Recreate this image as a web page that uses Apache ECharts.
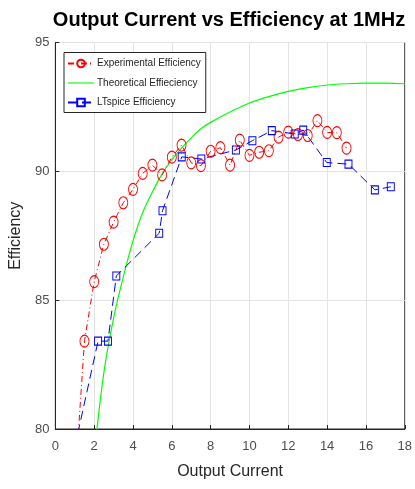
<!DOCTYPE html>
<html><head><meta charset="utf-8">
<script src="https://cdn.jsdelivr.net/npm/echarts@6/dist/echarts.min.js"></script>
<style>html,body{margin:0;padding:0;background:#fff}#c{width:415px;height:489px}</style>
</head><body><div id="c"></div>
<script>
const expX = [1.0, 1.5, 2.0, 2.5, 3.0, 3.5, 4.0, 4.5, 5.0, 5.5, 6.0, 6.5, 7.0, 7.5, 8.0, 8.5, 9.0, 9.5, 10.0, 10.5, 11.0, 11.5, 12.0, 12.5, 13.0, 13.5, 14.0, 14.5, 15.0];
const expY = [77.8, 83.41, 85.72, 87.17, 88.03, 88.78, 89.3, 89.92, 90.24, 89.86, 90.55, 91.02, 90.33, 90.22, 90.78, 90.92, 90.24, 91.21, 90.62, 90.74, 90.8, 91.33, 91.52, 91.43, 91.39, 91.97, 91.51, 91.5, 90.9];
const thX = [2.1, 2.5, 3.0, 3.5, 4.0, 4.5, 5.0, 5.5, 6.0, 6.5, 7.0, 7.5, 8.0, 9.0, 10.0, 11.0, 12.0, 13.0, 14.0, 15.0, 16.0, 17.0, 18.0];
const thY = [79.7, 82.2, 84.3, 85.9, 87.3, 88.4, 89.2, 89.9, 90.45, 90.9, 91.3, 91.65, 91.9, 92.3, 92.65, 92.9, 93.1, 93.25, 93.35, 93.4, 93.42, 93.42, 93.4];
const ltX = [1.0, 2.2, 2.71, 3.14, 5.35, 5.52, 6.51, 7.52, 9.3, 10.15, 11.15, 12.33, 12.77, 13.98, 15.1, 16.46, 17.28];
const ltY = [79.3, 83.41, 83.41, 85.94, 87.6, 88.47, 90.56, 90.48, 90.83, 91.19, 91.58, 91.45, 91.6, 90.34, 90.28, 89.28, 89.4];
const xTicks = [0, 2, 4, 6, 8, 10, 12, 14, 16, 18];
const yTicks = [80, 85, 90, 95];
const seriesNames = ['Experimental Efficiency', 'Theoretical Effieciency', 'LTspice Efficiency'];

const zip = (a, b) => a.map((v, i) => [v, b[i]]);
const font = '"Liberation Sans", Arial, sans-serif';
const chart = echarts.init(document.getElementById('c'), null, {renderer: 'canvas'});
chart.setOption({
  animation: false,
  backgroundColor: '#fff',
  title: {
    text: 'Output Current vs Efficiency at 1MHz',
    left: 224, top: 5, textAlign: 'center',
    textStyle: {fontFamily: font, fontWeight: 'bold', fontSize: 20, color: '#000'}
  },
  grid: {left: 45.7, right: 6.3, top: 42.5, bottom: 60, show: true, borderColor: '#262626', borderWidth: 1, backgroundColor: '#fff'},
  legend: {
    orient: 'vertical', left: 64, top: 52.5,
    data: [
      {name: seriesNames[0]},
      {name: seriesNames[1], icon: 'path://M0,0 M0,4.2 L26,4.2 L26,5.3 L0,5.3 Z M26,9.5'},
      {name: seriesNames[2]}
    ],
    borderColor: '#262626', borderWidth: 1, padding: [6, 5, 5, 3],
    itemWidth: 26, itemHeight: 9.5, itemGap: 9.5,
    backgroundColor: '#fff',
    textStyle: {fontFamily: font, fontSize: 10, color: '#262626', padding: [0, 0, 0, -2]}
  },
  xAxis: {
    type: 'value', min: xTicks[0], max: xTicks[xTicks.length - 1], interval: 2,
    name: 'Output Current', nameLocation: 'middle', nameGap: 35,
    nameTextStyle: {fontFamily: font, fontSize: 16, color: '#262626'},
    axisLine: {show: true, lineStyle: {color: '#262626'}},
    axisTick: {show: true, inside: true, length: 4, lineStyle: {color: '#262626'}},
    axisLabel: {fontFamily: font, fontSize: 13, color: '#4d4d4d', margin: 11},
    splitLine: {show: true, lineStyle: {color: '#e3e3e3'}}
  },
  yAxis: {
    type: 'value', min: yTicks[0], max: yTicks[yTicks.length - 1], interval: 5,
    name: 'Efficiency', nameLocation: 'middle', nameGap: 21, nameRotate: 90,
    nameTextStyle: {fontFamily: font, fontSize: 16, color: '#262626'},
    axisLine: {show: true, lineStyle: {color: '#262626'}},
    axisTick: {show: true, inside: true, length: 4, lineStyle: {color: '#262626'}},
    axisLabel: {fontFamily: font, fontSize: 13, color: '#4d4d4d', margin: 6},
    splitLine: {show: true, lineStyle: {color: '#e3e3e3'}}
  },
  series: [
    {
      name: seriesNames[0], type: 'line', data: zip(expX, expY), clip: true,
      symbol: 'circle', symbolSize: [9, 12],
      itemStyle: {color: 'rgba(255,255,255,0)', borderColor: '#ff0000', borderWidth: 1},
      lineStyle: {color: '#ff0000', width: 1, type: [6, 3, 1, 3]},
      z: 3
    },
    {
      name: seriesNames[1], type: 'line', data: zip(thX, thY), clip: true,
      symbol: 'none', smooth: 0.3,
      itemStyle: {color: '#00ff00'},
      lineStyle: {color: '#00ff00', width: 1.2, type: 'solid'},
      z: 2
    },
    {
      name: seriesNames[2], type: 'line', data: zip(ltX, ltY), clip: true,
      symbol: 'rect', symbolSize: [7, 8],
      itemStyle: {color: 'rgba(255,255,255,0)', borderColor: '#0000ff', borderWidth: 1},
      lineStyle: {color: '#0000ff', width: 1, type: [9, 5]},
      z: 3
    }
  ]
});
</script></body></html>
